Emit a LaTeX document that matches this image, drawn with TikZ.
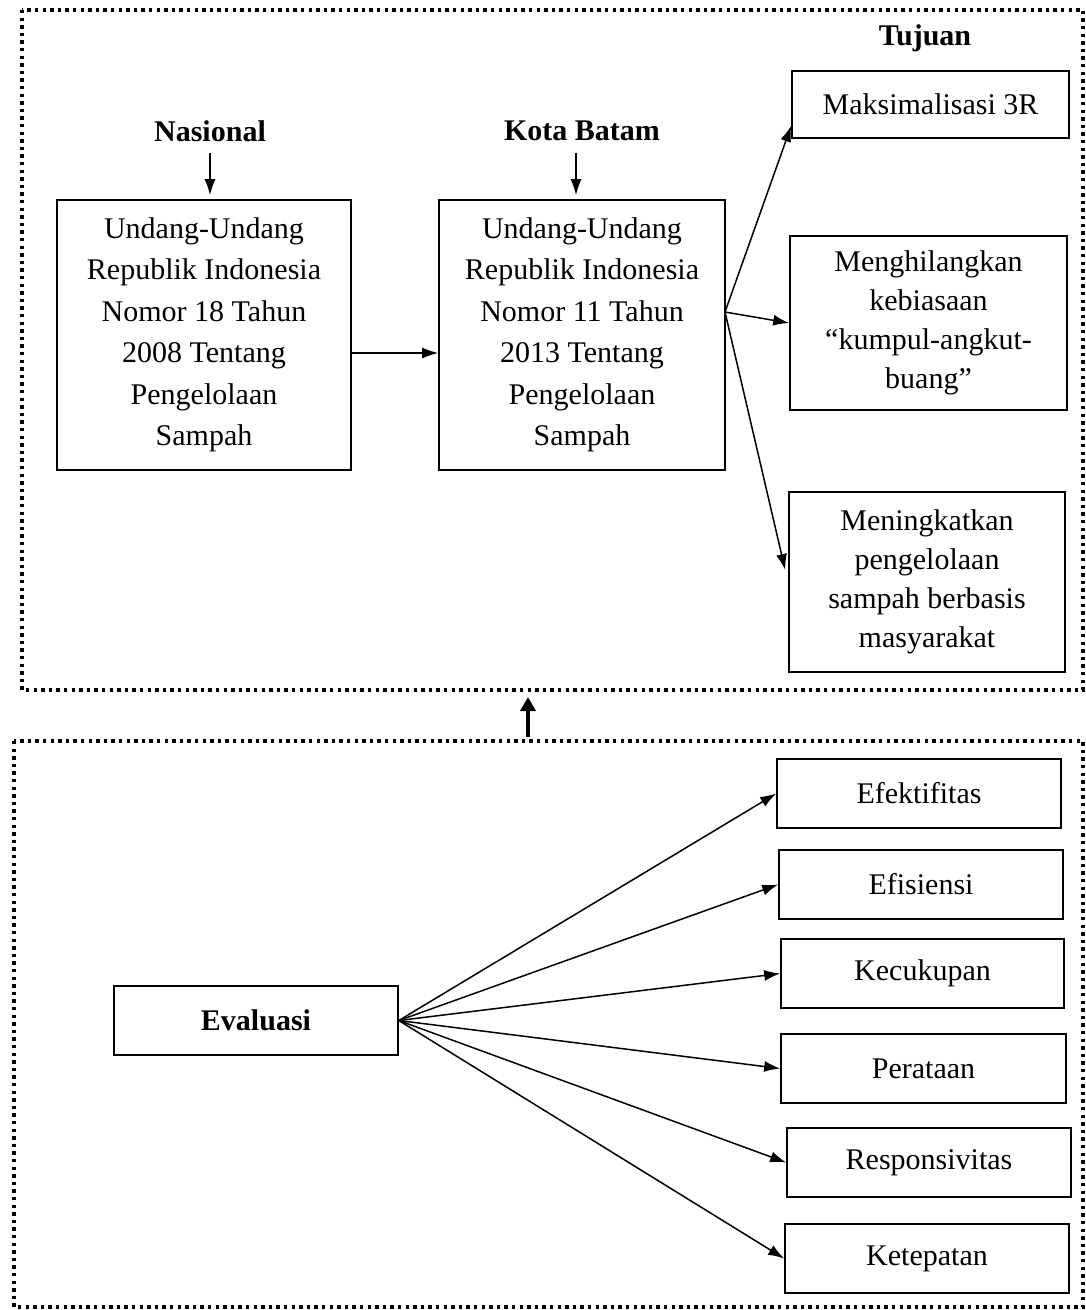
\documentclass[tikz,border=0pt]{standalone}
\usepackage{fontspec}
\setmainfont{Liberation Serif}
\usetikzlibrary{arrows.meta}

\tikzset{
	box/.style={draw, line width=1.6pt, align=center, inner sep=0pt},
	goalbox/.style={box, font=\fontsize{30}{39}\selectfont},
	arr/.style={line width=1.5pt, -{Latex[length=16pt,width=11pt]}},
	dotframe/.style={line width=3.4pt, dash pattern=on 3.4pt off 4.2pt},
}

\begin{document}
\begin{tikzpicture}[x=1pt,y=-1pt]
\tikzstyle{every node}=[font=\fontsize{30}{41.5}\selectfont]
	\useasboundingbox (0,0) rectangle (1085,1310);

	% the two dotted frames
	\draw[dotframe] (22,10) rectangle (1083,690);
	\draw[dotframe] (14,741) rectangle (1083,1307);
	\coordinate (upFrom) at (528,737);
	\coordinate (upTo) at (528,697);
	\draw[line width=4pt, -{Triangle[length=14pt,width=15pt]}] (upFrom) -- (upTo);

	% top part
	\node[font=\fontsize{30}{41.5}\selectfont\bfseries] (nas) at (210,131) {Nasional};
	\node[font=\fontsize{30}{41.5}\selectfont\bfseries] (kota) at (582,131) {Kota Batam};
	\node[font=\fontsize{30}{41.5}\selectfont\bfseries] (tuj) at (925,38) {Tujuan};

	\node[box, minimum width=294pt, minimum height=270pt] (uu18) at (204,335)
		{Undang-Undang\\Republik Indonesia\\Nomor 18 Tahun\\2008 Tentang\\Pengelolaan\\Sampah};
	\node[box, minimum width=286pt, minimum height=270pt] (uu11) at (582,335)
		{Undang-Undang\\Republik Indonesia\\Nomor 11 Tahun\\2013 Tentang\\Pengelolaan\\Sampah};

	\node[goalbox, minimum width=277pt, minimum height=67pt] (maks) at (930.5,104.5) {Maksimalisasi 3R};
	\node[goalbox, minimum width=277pt, minimum height=174pt] (hilang) at (928.5,323)
		{Menghilangkan\\kebiasaan\\“kumpul-angkut-\\buang”};
	\node[goalbox, minimum width=276pt, minimum height=180pt] (tingkat) at (927,582)
		{Meningkatkan\\pengelolaan\\sampah berbasis\\masyarakat};

	\draw[arr, shorten <=8pt, shorten >=4pt] (nas.south) -- (nas.south |- uu18.north);
	\draw[arr, shorten <=8pt, shorten >=4pt] ([xshift=-6pt]kota.south) -- ([xshift=-6pt]kota.south |- uu11.north);
	\draw[arr] ([yshift=-18pt]uu18.east) -- ([yshift=-18pt]uu11.west);

	\coordinate (fork) at (725,312);
	\draw[arr] (fork) -- ([yshift=13pt]maks.south west);
	\draw[arr] (fork) -- (hilang.west);
	\draw[arr] (fork) -- ([yshift=12pt,xshift=-3pt]tingkat.west);

	% bottom part
	\node[box, minimum width=284pt, minimum height=69pt, font=\fontsize{30}{41.5}\selectfont\bfseries] (eval) at (256,1020.5) {Evaluasi};

	\node[box, minimum width=284pt, minimum height=69pt] (efek) at (919,793.5) {Efektifitas};
	\node[box, minimum width=284pt, minimum height=69pt] (efis) at (921,884.5) {Efisiensi};
	\node[box, minimum width=283pt, minimum height=69pt] (kecu) at (922.5,973.5) {Kecukupan};
	\node[box, minimum width=285pt, minimum height=69pt] (pera) at (923.5,1068.5) {Perataan};
	\node[box, minimum width=284pt, minimum height=69pt] (resp) at (929,1162.5) {Responsivitas};
	\node[box, minimum width=284pt, minimum height=69pt] (kete) at (927,1258.5) {Ketepatan};

	\foreach \Target in {efek,efis,kecu,pera,resp,kete}{
		\draw[arr] (eval.east) -- (\Target.west);
	}
\end{tikzpicture}
\end{document}
